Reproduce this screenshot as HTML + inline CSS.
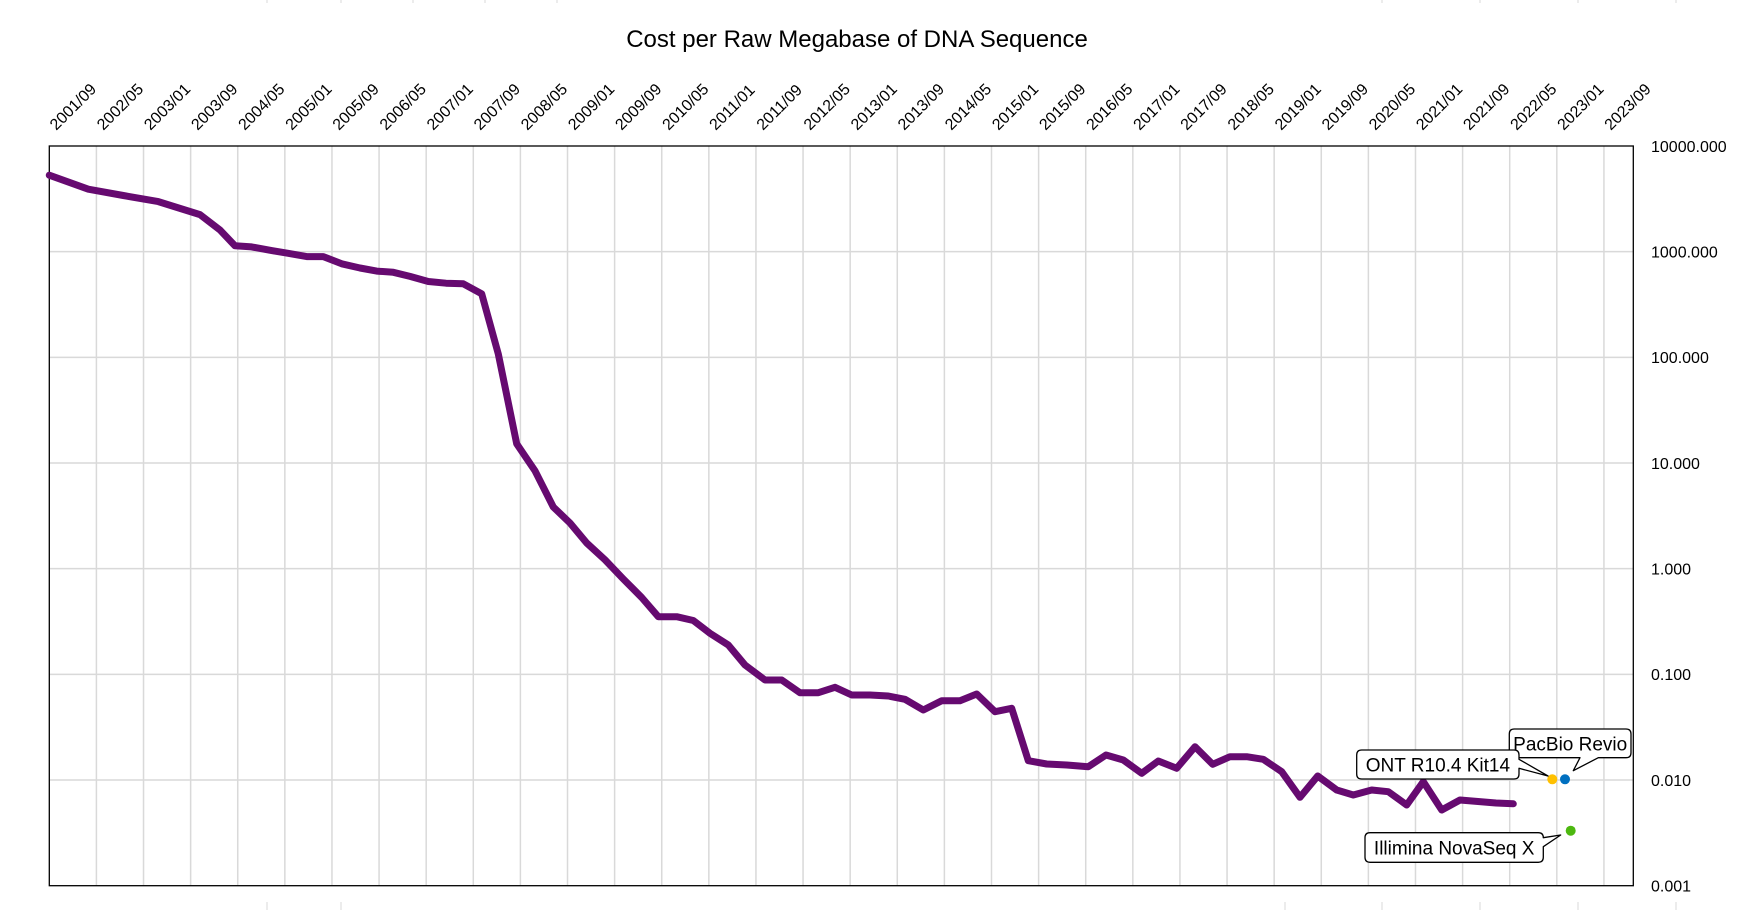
<!DOCTYPE html>
<html>
<head>
<meta charset="utf-8">
<style>
  html, body { margin: 0; padding: 0; background: #ffffff; }
  svg { display: block; }
  text { font-family: "Liberation Sans", Arial, sans-serif; fill: #000; }
</style>
</head>
<body>
<svg width="1744" height="910" viewBox="0 0 1744 910" xmlns="http://www.w3.org/2000/svg">
  <rect x="0" y="0" width="1744" height="910" fill="#ffffff"/>

  <!-- faint spreadsheet cell marks -->
  <g stroke="#DADADA" stroke-width="1">
    <line x1="267" y1="0" x2="267" y2="3"/>
    <line x1="341" y1="0" x2="341" y2="3"/>
    <line x1="413" y1="0" x2="413" y2="3"/>
    <line x1="485" y1="0" x2="485" y2="3"/>
    <line x1="557" y1="0" x2="557" y2="3"/>
    <line x1="1382" y1="0" x2="1382" y2="3"/>
    <line x1="1480" y1="0" x2="1480" y2="3"/>
    <line x1="1578" y1="0" x2="1578" y2="3"/>
    <line x1="1676" y1="0" x2="1676" y2="3"/>
    <line x1="267" y1="902" x2="267" y2="910"/>
    <line x1="341" y1="902" x2="341" y2="910"/>
    <line x1="1285" y1="902" x2="1285" y2="910"/>
    <line x1="1382" y1="902" x2="1382" y2="910"/>
    <line x1="1480" y1="902" x2="1480" y2="910"/>
    <line x1="1578" y1="902" x2="1578" y2="910"/>
    <line x1="1676" y1="902" x2="1676" y2="910"/>
  </g>

  <!-- Title -->
  <text x="857" y="47" font-size="24" text-anchor="middle">Cost per Raw Megabase of DNA Sequence</text>

  <!-- Gridlines -->
  <g stroke="#D9D9D9" stroke-width="1.5">
    <line x1="96.41" y1="146" x2="96.41" y2="885.7"/>
    <line x1="143.52" y1="146" x2="143.52" y2="885.7"/>
    <line x1="190.63" y1="146" x2="190.63" y2="885.7"/>
    <line x1="237.74" y1="146" x2="237.74" y2="885.7"/>
    <line x1="284.85" y1="146" x2="284.85" y2="885.7"/>
    <line x1="331.96" y1="146" x2="331.96" y2="885.7"/>
    <line x1="379.07" y1="146" x2="379.07" y2="885.7"/>
    <line x1="426.18" y1="146" x2="426.18" y2="885.7"/>
    <line x1="473.29" y1="146" x2="473.29" y2="885.7"/>
    <line x1="520.4" y1="146" x2="520.4" y2="885.7"/>
    <line x1="567.51" y1="146" x2="567.51" y2="885.7"/>
    <line x1="614.62" y1="146" x2="614.62" y2="885.7"/>
    <line x1="661.73" y1="146" x2="661.73" y2="885.7"/>
    <line x1="708.84" y1="146" x2="708.84" y2="885.7"/>
    <line x1="755.95" y1="146" x2="755.95" y2="885.7"/>
    <line x1="803.06" y1="146" x2="803.06" y2="885.7"/>
    <line x1="850.17" y1="146" x2="850.17" y2="885.7"/>
    <line x1="897.28" y1="146" x2="897.28" y2="885.7"/>
    <line x1="944.39" y1="146" x2="944.39" y2="885.7"/>
    <line x1="991.5" y1="146" x2="991.5" y2="885.7"/>
    <line x1="1038.61" y1="146" x2="1038.61" y2="885.7"/>
    <line x1="1085.72" y1="146" x2="1085.72" y2="885.7"/>
    <line x1="1132.83" y1="146" x2="1132.83" y2="885.7"/>
    <line x1="1179.94" y1="146" x2="1179.94" y2="885.7"/>
    <line x1="1227.05" y1="146" x2="1227.05" y2="885.7"/>
    <line x1="1274.16" y1="146" x2="1274.16" y2="885.7"/>
    <line x1="1321.27" y1="146" x2="1321.27" y2="885.7"/>
    <line x1="1368.38" y1="146" x2="1368.38" y2="885.7"/>
    <line x1="1415.49" y1="146" x2="1415.49" y2="885.7"/>
    <line x1="1462.6" y1="146" x2="1462.6" y2="885.7"/>
    <line x1="1509.71" y1="146" x2="1509.71" y2="885.7"/>
    <line x1="1556.82" y1="146" x2="1556.82" y2="885.7"/>
    <line x1="1603.93" y1="146" x2="1603.93" y2="885.7"/>

    <line x1="49.3" y1="251.67" x2="1633.3" y2="251.67"/>
    <line x1="49.3" y1="357.34" x2="1633.3" y2="357.34"/>
    <line x1="49.3" y1="463.01" x2="1633.3" y2="463.01"/>
    <line x1="49.3" y1="568.68" x2="1633.3" y2="568.68"/>
    <line x1="49.3" y1="674.35" x2="1633.3" y2="674.35"/>
    <line x1="49.3" y1="780.02" x2="1633.3" y2="780.02"/>
  </g>

  <!-- Plot border -->
  <rect x="49.3" y="146" width="1584" height="739.7" fill="none" stroke="#000" stroke-width="1.3"/>

  <!-- X labels (top, rotated) -->
  <g font-size="16">
    <text x="56.3" y="131" transform="rotate(-45 56.3 131)">2001/09</text>
    <text x="103.4" y="131" transform="rotate(-45 103.4 131)">2002/05</text>
    <text x="150.5" y="131" transform="rotate(-45 150.5 131)">2003/01</text>
    <text x="197.6" y="131" transform="rotate(-45 197.6 131)">2003/09</text>
    <text x="244.7" y="131" transform="rotate(-45 244.7 131)">2004/05</text>
    <text x="291.9" y="131" transform="rotate(-45 291.9 131)">2005/01</text>
    <text x="339.0" y="131" transform="rotate(-45 339.0 131)">2005/09</text>
    <text x="386.1" y="131" transform="rotate(-45 386.1 131)">2006/05</text>
    <text x="433.2" y="131" transform="rotate(-45 433.2 131)">2007/01</text>
    <text x="480.3" y="131" transform="rotate(-45 480.3 131)">2007/09</text>
    <text x="527.4" y="131" transform="rotate(-45 527.4 131)">2008/05</text>
    <text x="574.5" y="131" transform="rotate(-45 574.5 131)">2009/01</text>
    <text x="621.6" y="131" transform="rotate(-45 621.6 131)">2009/09</text>
    <text x="668.7" y="131" transform="rotate(-45 668.7 131)">2010/05</text>
    <text x="715.8" y="131" transform="rotate(-45 715.8 131)">2011/01</text>
    <text x="763.0" y="131" transform="rotate(-45 763.0 131)">2011/09</text>
    <text x="810.1" y="131" transform="rotate(-45 810.1 131)">2012/05</text>
    <text x="857.2" y="131" transform="rotate(-45 857.2 131)">2013/01</text>
    <text x="904.3" y="131" transform="rotate(-45 904.3 131)">2013/09</text>
    <text x="951.4" y="131" transform="rotate(-45 951.4 131)">2014/05</text>
    <text x="998.5" y="131" transform="rotate(-45 998.5 131)">2015/01</text>
    <text x="1045.6" y="131" transform="rotate(-45 1045.6 131)">2015/09</text>
    <text x="1092.7" y="131" transform="rotate(-45 1092.7 131)">2016/05</text>
    <text x="1139.8" y="131" transform="rotate(-45 1139.8 131)">2017/01</text>
    <text x="1186.9" y="131" transform="rotate(-45 1186.9 131)">2017/09</text>
    <text x="1234.1" y="131" transform="rotate(-45 1234.1 131)">2018/05</text>
    <text x="1281.2" y="131" transform="rotate(-45 1281.2 131)">2019/01</text>
    <text x="1328.3" y="131" transform="rotate(-45 1328.3 131)">2019/09</text>
    <text x="1375.4" y="131" transform="rotate(-45 1375.4 131)">2020/05</text>
    <text x="1422.5" y="131" transform="rotate(-45 1422.5 131)">2021/01</text>
    <text x="1469.6" y="131" transform="rotate(-45 1469.6 131)">2021/09</text>
    <text x="1516.7" y="131" transform="rotate(-45 1516.7 131)">2022/05</text>
    <text x="1563.8" y="131" transform="rotate(-45 1563.8 131)">2023/01</text>
    <text x="1610.9" y="131" transform="rotate(-45 1610.9 131)">2023/09</text>
  </g>

  <!-- Y labels (right) -->
  <g font-size="16">
    <text x="1651" y="151.8">10000.000</text>
    <text x="1651" y="257.5">1000.000</text>
    <text x="1651" y="363.1">100.000</text>
    <text x="1651" y="468.8">10.000</text>
    <text x="1651" y="574.5">1.000</text>
    <text x="1651" y="680.2">0.100</text>
    <text x="1651" y="785.8">0.010</text>
    <text x="1651" y="891.5">0.001</text>
  </g>

  <!-- Main series -->
  <polyline fill="none" stroke="#660A70" stroke-width="7" stroke-linejoin="round" stroke-linecap="round"
    points="49.3,175.2 88.3,189.2 123.3,195.5 158.3,201.6 200,214.6 220,230 235,245.8 251.7,246.9 271.7,250.6 286.7,253.1 306.7,256.6 323.3,256.6 341.7,263.8 360,268 376.7,271.1 393.3,272.3 410,276.4 428.3,281.5 446,283.2 463.3,283.8 481.7,293.8 498.3,354 516.7,443.8 535,470.8 553.3,507 570,523 586.7,543 605,559.8 623.3,579 641.7,597.5 658.3,616.7 676.7,616.7 693.3,620.5 710,633.3 728.3,645 745,665 765,680 781.7,680 800,692.7 818.3,692.7 835,687.3 851.7,695 870,695 888.3,696 905,699.3 923.3,710 941.7,700.7 960,700.7 976.7,694 995,711.7 1011.7,708.3 1028.3,760.7 1046.7,764 1066.7,765 1088.3,766.7 1106,755 1123.3,760 1141.7,773.3 1158.3,761 1176.7,768.3 1195,746.7 1212.7,764.3 1230,756.7 1246.7,756.7 1263.3,759.3 1281.7,771.7 1300,797.3 1317.7,776 1336.7,790 1353.3,795 1371.7,790 1388.3,791.7 1406.7,805 1423.3,781.7 1441.7,810 1460,800 1478,801.5 1496,803 1513.3,803.8"/>

  <!-- Individual points -->
  <circle cx="1552.3" cy="779.3" r="5" fill="#FFC000"/>
  <circle cx="1565" cy="779.3" r="5" fill="#0070C0"/>
  <circle cx="1570.7" cy="830.7" r="5" fill="#4DB810"/>

  <!-- Callouts -->
  <g fill="#ffffff" stroke="#000" stroke-width="1.3" stroke-linejoin="round">
    <path d="M1514.3,729 H1626 Q1631,729 1631,734 V752.7 Q1631,757.7 1626,757.7 H1598.3 L1573.3,770.7 L1580,757.7 H1514.3 Q1509.3,757.7 1509.3,752.7 V734 Q1509.3,729 1514.3,729 Z"/>
    <path d="M1361.7,750 H1514 Q1519,750 1519,755 V759.3 L1548,776 L1519,768.3 V774 Q1519,779 1514,779 H1361.7 Q1356.7,779 1356.7,774 V755 Q1356.7,750 1361.7,750 Z"/>
    <path d="M1370,832.7 H1538.3 Q1543.3,832.7 1543.3,837.7 L1560.7,835 L1543.3,846.7 V857.3 Q1543.3,862.3 1538.3,862.3 H1370 Q1365,862.3 1365,857.3 V837.7 Q1365,832.7 1370,832.7 Z"/>
  </g>
  <g font-size="19" text-anchor="middle">
    <text x="1570.2" y="750.4">PacBio Revio</text>
    <text x="1437.9" y="771.5">ONT R10.4 Kit14</text>
    <text x="1454.2" y="854.6">Illimina NovaSeq X</text>
  </g>
</svg>
</body>
</html>
